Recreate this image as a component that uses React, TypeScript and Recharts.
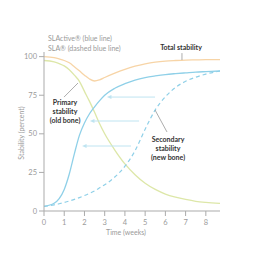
import React from "react";
import { LineChart, Line, XAxis, YAxis, ReferenceLine } from "recharts";

// Time axis (weeks) shared by every curve
const weeks = [0, 0.5, 0.75, 1, 1.25, 1.5, 1.75, 2, 2.25, 2.5, 2.75, 3, 3.5, 4, 4.5, 5, 5.5, 6, 6.5, 7, 7.5, 8, 8.7];

// Stability (percent) per curve
const totalStability = [100, 99.3, 98.5, 97.5, 96, 93.5, 90.8, 88, 85.5, 84.2, 85, 86.5, 89.3, 91.8, 93.8, 95.3, 96.4, 97.1, 97.5, 97.8, 97.9, 98, 98];
const primaryStability = [97.5, 96.6, 95.5, 94, 91.5, 88, 84, 77.5, 71, 64, 56.5, 50, 39.5, 30.5, 23.5, 18, 14, 11, 9, 7.5, 6.3, 5.6, 5];
const slActive = [3, 5, 8, 14, 24, 37, 49, 57, 63, 67.5, 71.5, 75, 79.5, 82.5, 84.8, 86.4, 87.5, 88.4, 89, 89.5, 90, 90.3, 90.7];
const sla = [3, 4, 4.7, 5.5, 6.5, 7.5, 8.7, 10, 11.4, 13, 15, 17, 22, 29, 39, 53, 65.5, 74, 80, 84, 86.7, 88.7, 90.7];

const xTicks = [0, 1, 2, 3, 4, 5, 6, 7, 8];
const yTicks = [0, 25, 50, 75, 100];

// Horizontal arrows showing the gain of the SLActive curve over SLA
const arrowLevels = [73.8, 58.3, 42.1];
const arrowStarts = [3.11, 2.27, 1.88];
const arrowEnds = [5.49, 4.7, 4.3];

const data = weeks.map((w, i) => ({
  week: w,
  total: totalStability[i],
  primary: primaryStability[i],
  active: slActive[i],
  sla: sla[i],
}));

const ORANGE = "#f7d4a6";
const GREEN = "#dde7a8";
const BLUE = "#8fd0e8";
const ARROW = "#bfe4f1";
const AXIS = "#ababab";
const TEXT_GRAY = "#9a9a9a";
const TEXT_DARK = "#333333";
const FONT = "Lato, 'Open Sans', sans-serif";

const ArrowShape = (props: any) => {
  const { x1, y1, x2, y2 } = props;
  const left = Math.min(x1, x2);
  const right = Math.max(x1, x2);
  return (
    <g>
      <line x1={left + 3} y1={y1} x2={right} y2={y2} stroke={ARROW} strokeWidth={1} />
      <path d={`M${left},${y1} L${left + 4.5},${y1 - 2} L${left + 4.5},${y1 + 2} Z`} fill={ARROW} />
    </g>
  );
};

export default function App() {
  return (
    <div style={{ position: "absolute", left: 0, top: 0, width: 264, height: 254 }}>
      <LineChart
        width={264}
        height={254}
        data={data}
        margin={{ top: 52, right: 44, bottom: 0, left: 0 }}
      >
        <XAxis
          type="number"
          dataKey="week"
          domain={[0, 8.7]}
          ticks={xTicks}
          height={43}
          stroke={AXIS}
          tickSize={5}
          tickMargin={4}
          tick={{ fill: TEXT_GRAY, fontSize: 7.5, fontFamily: FONT }}
          interval={0}
        />
        <YAxis
          type="number"
          domain={[0, 103]}
          ticks={yTicks}
          width={44}
          stroke={AXIS}
          tickSize={5}
          tickMargin={2}
          tick={{ fill: TEXT_GRAY, fontSize: 7.5, fontFamily: FONT }}
          interval={0}
        />
        <Line type="monotone" dataKey="total" stroke={ORANGE} strokeWidth={1.3} dot={false} isAnimationActive={false} />
        <Line type="monotone" dataKey="primary" stroke={GREEN} strokeWidth={1.3} dot={false} isAnimationActive={false} />
        <Line type="monotone" dataKey="sla" stroke={BLUE} strokeWidth={1.2} strokeDasharray="4 3" dot={false} isAnimationActive={false} />
        <Line type="monotone" dataKey="active" stroke={BLUE} strokeWidth={1.3} dot={false} isAnimationActive={false} />
        {arrowLevels.map((lvl, i) => (
          <ReferenceLine
            key={`arrow-${i}`}
            segment={[
              { x: arrowStarts[i], y: lvl },
              { x: arrowEnds[i], y: lvl },
            ]}
            shape={ArrowShape}
          />
        ))}
        {/* leader lines from the labels to their curves */}
        <ReferenceLine segment={[{ x: 0.99, y: 73.8 }, { x: 1.68, y: 82.9 }]} stroke="#8a8a8a" strokeWidth={0.7} />
        <ReferenceLine segment={[{ x: 5.49, y: 65.4 }, { x: 6.08, y: 51.2 }]} stroke="#8a8a8a" strokeWidth={0.7} />
        <ReferenceLine segment={[{ x: 6.82, y: 102.3 }, { x: 6.82, y: 97.8 }]} stroke="#8a8a8a" strokeWidth={0.7} />
      </LineChart>
      <svg
        width={264}
        height={254}
        style={{ position: "absolute", left: 0, top: 0, pointerEvents: "none" }}
        fontFamily={FONT}
      >
        <text x={48} y={40.8} fontSize={7} fill={TEXT_GRAY}>SLActive® (blue line)</text>
        <text x={48} y={50.8} fontSize={7} fill={TEXT_GRAY}>SLA® (dashed blue line)</text>
        <text x={181} y={50.2} fontSize={7} fontWeight="bold" fill={TEXT_DARK} textAnchor="middle">Total stability</text>
        <g fontSize={7} fontWeight="bold" fill={TEXT_DARK} textAnchor="middle">
          <text x={65} y={104.5}>Primary</text>
          <text x={65} y={113.5}>stability</text>
          <text x={65} y={122.5}>(old bone)</text>
          <text x={168} y={141.8}>Secondary</text>
          <text x={168} y={150.8}>stability</text>
          <text x={168} y={160.2}>(new bone)</text>
        </g>
        <text x={126} y={234.8} fontSize={7} fill={TEXT_GRAY} textAnchor="middle">Time (weeks)</text>
        <text
          x={0}
          y={0}
          fontSize={7}
          fill={TEXT_GRAY}
          textAnchor="middle"
          transform="translate(24.3,133) rotate(-90)"
        >
          Stability (percent)
        </text>
      </svg>
    </div>
  );
}
